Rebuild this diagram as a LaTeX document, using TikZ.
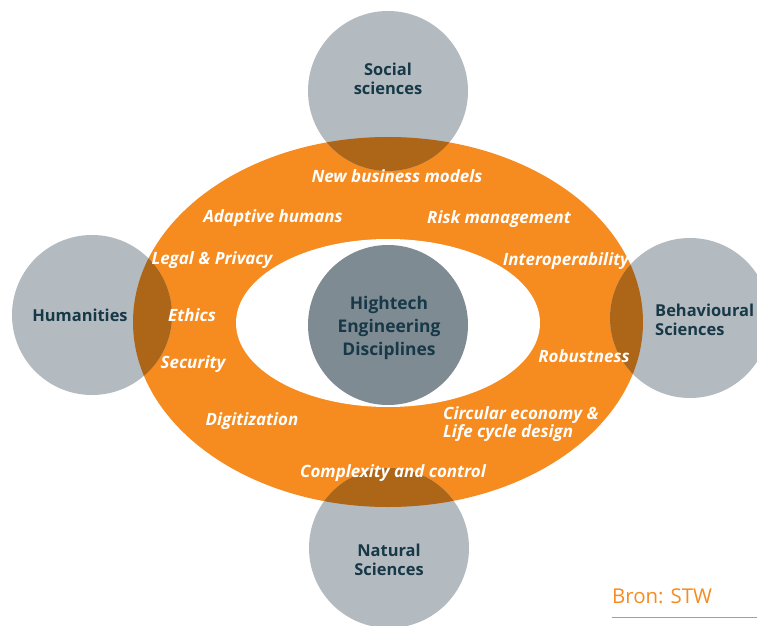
\documentclass[tikz,border=0pt]{standalone}
\usepackage{fontspec}
\setmainfont{Open Sans}
\usetikzlibrary{positioning}
\definecolor{ringorange}{HTML}{F68B1F}
\definecolor{fieldgray}{HTML}{B3BAC0}
\definecolor{overlapbrown}{HTML}{AD6517}
\definecolor{coregray}{HTML}{7F8B93}
\definecolor{labeldark}{HTML}{173847}

\begin{document}
\begin{tikzpicture}[x=1bp, y=-1bp,
  field/.style={circle, fill=fieldgray, minimum size=160bp, inner sep=0pt},
  fieldtext/.style={text=labeldark, inner sep=0pt, align=center, font=\fontsize{16.5}{19.5}\selectfont\bfseries},
  topic/.style={text=white, inner sep=0pt, font=\fontsize{17}{18}\selectfont\bfseries\itshape}]

\useasboundingbox (0,0) rectangle (757,626);

% Orange ring of themes
\fill[ringorange] (388,322) ellipse [x radius=255, y radius=185];

% Neighbouring fields
\node[field] (social) at (388,91) {};
\node[field] (humanities) at (92,315) {};
\node[field] (behavioural) at (690,318) {};
\node[field] (natural) at (389,548) {};

% Overlap of fields and ring
\begin{scope}
  \clip (388,322) ellipse [x radius=255, y radius=185];
  \fill[overlapbrown] (social.center) circle (80);
  \fill[overlapbrown] (humanities.center) circle (80);
  \fill[overlapbrown] (behavioural.center) circle (80);
  \fill[overlapbrown] (natural.center) circle (80);
\end{scope}

\node[fieldtext] (socialtext) at (388,79) {Social\\sciences};
\node[fieldtext] (humanitiestext) at (80,315) {Humanities};
\node[fieldtext, align=left, anchor=west] (behaviouraltext) at (655,320) {Behavioural\\Sciences};
\node[fieldtext] (naturaltext) at (389,560) {Natural\\Sciences};

% Inner eye and core
\fill[white] (388,323) ellipse [x radius=152, y radius=84];
\node[field, fill=coregray] (core) at (388,325) {};
\node[fieldtext, font=\fontsize{17.5}{23}\selectfont\bfseries] (coretext) at (389,328) {Hightech\\Engineering\\Disciplines};

% Themes
\node[topic] (business) at (397,176) {New business models};
\node[topic] (adaptive) at (273,218) {Adaptive humans};
\node[topic] (risk) at (499,219) {Risk management};
\node[topic] (legal) at (212,260) {Legal \& Privacy};
\node[topic] (interop) at (566,261) {Interoperability};
\node[topic] (ethics) at (192,315) {Ethics};
\node[topic] (security) at (193,364) {Security};
\node[topic] (robust) at (584,356) {Robustness};
\node[topic] (digit) at (252,421) {Digitization};
\node[topic, align=left, anchor=west] (circular) at (443,424) {Circular economy \&\\Life cycle design};
\node[topic] (complexity) at (393,473) {Complexity and control};

% Source
\node[anchor=base west, inner sep=0pt, text=ringorange, font=\fontsize{20.5}{22}\selectfont] (source) at (612,603) {Bron: STW};
\draw[ringorange, line width=1bp] (source.base west) ++(0,14) -- (757,617);

\end{tikzpicture}
\end{document}
